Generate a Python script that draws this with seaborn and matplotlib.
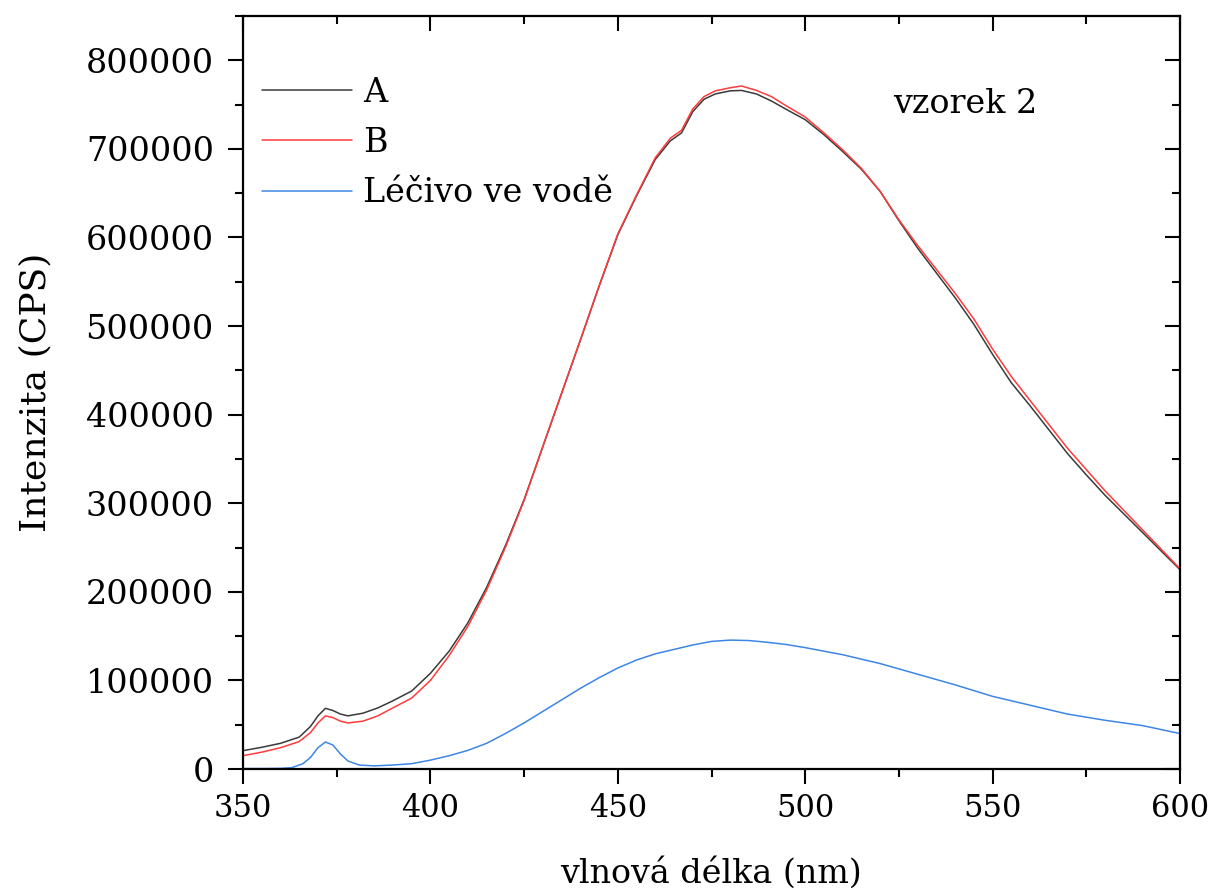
import numpy as np
import pandas as pd
import matplotlib
matplotlib.use("Agg")
import matplotlib.pyplot as plt
from matplotlib.ticker import MultipleLocator
import seaborn as sns

# ---- data ----
wl_ab = [350, 355, 360, 365, 368, 370, 372, 374, 376, 378, 382, 386, 390, 395, 400, 405, 410,
         415, 420, 425, 430, 435, 440, 445, 450, 455, 460, 464, 467, 470, 473, 476,
         480, 483, 487, 491, 495, 500, 505, 510, 515, 520, 525, 530, 535, 540, 545,
         550, 555, 560, 565, 570, 575, 580, 585, 590, 595, 600]
series_a = [20700, 24500, 29000, 36000, 48000, 60000, 68500, 66000, 62000, 60000, 63000, 69000,
            77000, 88000, 108000, 133000, 165000, 205000, 252000, 304000, 364000, 424000,
            484000, 545000, 603000, 647000, 688000, 709000, 718000, 742000, 756000, 762000,
            765500, 766000, 762000, 754000, 744500, 733000, 716000, 697000, 677000, 652000,
            619000, 588000, 560000, 532000, 502000, 468000, 436000, 410000, 383000, 356000,
            332000, 309000, 288000, 267000, 246000, 225000]
series_b = [15000, 19000, 24000, 31000, 41000, 52000, 60000, 58000, 54000, 52000, 54000, 60000,
            69000, 80000, 100000, 128000, 161000, 202000, 250000, 303000, 364000, 424000,
            484000, 545000, 604000, 648000, 690000, 712000, 721000, 745000, 759000, 765500,
            769000, 771000, 766000, 759000, 748500, 736000, 718000, 699000, 678000, 652000,
            620000, 591000, 564000, 537000, 508000, 474000, 443000, 416000, 389000, 362000,
            338000, 314000, 292000, 270000, 248000, 226000]

wl_c = [350, 355, 360, 363, 366, 368, 370, 372, 374, 376, 378, 381, 385, 390, 395, 400, 405,
        410, 415, 420, 425, 430, 435, 440, 445, 450, 455, 460, 465, 470, 475, 480,
        485, 490, 495, 500, 510, 520, 530, 540, 550, 560, 570, 580, 590, 600]
series_c = [500, 500, 700, 1500, 6000, 13000, 24000, 30500, 27000, 17000, 9000, 4500, 3500, 4500,
            6000, 10000, 15000, 21000, 29000, 40000, 52000, 65000, 78000, 91000, 103000,
            114000, 123000, 130000, 135000, 140000, 144000, 145500, 145000, 143000, 140500,
            137000, 129000, 119000, 107000, 95000, 82000, 72000, 62000, 55000, 49000, 40000]

labels = ["A", "B", "Léčivo ve vodě"]
colors = ["#3a3a3a", "#ff3b3b", "#3d86e6"]
x_ticks = [350, 400, 450, 500, 550, 600]
y_ticks = [0, 100000, 200000, 300000, 400000, 500000, 600000, 700000, 800000]

df = pd.concat([
    pd.DataFrame({"wl": wl_ab, "val": series_a, "series": labels[0]}),
    pd.DataFrame({"wl": wl_ab, "val": series_b, "series": labels[1]}),
    pd.DataFrame({"wl": wl_c, "val": series_c, "series": labels[2]}),
], ignore_index=True)

sns.set_style("white")
plt.rcParams["font.family"] = ["DejaVu Serif"]
for k in ["text.color", "axes.labelcolor", "xtick.color", "ytick.color", "axes.edgecolor"]:
    plt.rcParams[k] = "black"

fig = plt.figure(figsize=(12.08, 8.90), dpi=100)
rect = [243 / 1208, 1 - 769 / 890, 937 / 1208, 753 / 890]
ax = fig.add_axes(rect)

sns.lineplot(data=df, x="wl", y="val", hue="series", hue_order=labels,
             palette=dict(zip(labels, colors)), linewidth=1.1, ax=ax, sort=True)

ax.set_xlim(350, 600)
ax.set_ylim(0, 850000)
ax.set_xticks(x_ticks)
ax.set_yticks(y_ticks)
ax.set_xticklabels([str(v) for v in x_ticks])
ax.set_yticklabels([str(v) for v in y_ticks])
ax.xaxis.set_minor_locator(MultipleLocator(25))
ax.yaxis.set_minor_locator(MultipleLocator(50000))

for sp in ax.spines.values():
    sp.set_linewidth(1.6)
    sp.set_color("black")

ax.tick_params(which="both", bottom=True, left=True, top=False, right=False)
ax.tick_params(which="major", direction="out", length=11, width=1.5, color="black")
ax.tick_params(which="minor", direction="out", length=5.5, width=1.5, color="black")
ax.tick_params(axis="x", labelsize=22, pad=6)
ax.tick_params(axis="y", labelsize=24, pad=10)

# overlay axes carrying the inward ticks on the top and right sides
ax2 = fig.add_axes(rect, frameon=False)
ax2.set_xlim(350, 600)
ax2.set_ylim(0, 850000)
ax2.xaxis.set_major_locator(MultipleLocator(50))
ax2.xaxis.set_minor_locator(MultipleLocator(25))
ax2.yaxis.set_major_locator(MultipleLocator(100000))
ax2.yaxis.set_minor_locator(MultipleLocator(50000))
ax2.tick_params(which="both", top=True, right=True, bottom=False, left=False,
                labeltop=False, labelright=False, labelbottom=False, labelleft=False,
                direction="in", width=1.5, color="black")
ax2.tick_params(which="major", length=11)
ax2.tick_params(which="minor", length=5.5)
ax2.patch.set_visible(False)

ax.set_xlabel("vlnová délka (nm)", fontsize=24, labelpad=24)
ax.set_ylabel("Intenzita (CPS)", fontsize=26, labelpad=24)

handles, lbls = ax.get_legend_handles_labels()
leg = ax.legend(handles, lbls, loc="upper left", bbox_to_anchor=(-0.0085, 0.955),
                frameon=False, fontsize=24, handlelength=2.7, handletextpad=0.35,
                labelspacing=0.55, borderaxespad=0.4)
for line in leg.get_lines():
    line.set_linewidth(1.1)

ax.text(0.694, 0.883, "vzorek 2", transform=ax.transAxes, fontsize=24,
        ha="left", va="center")

fig.savefig("out.png", dpi=100)
